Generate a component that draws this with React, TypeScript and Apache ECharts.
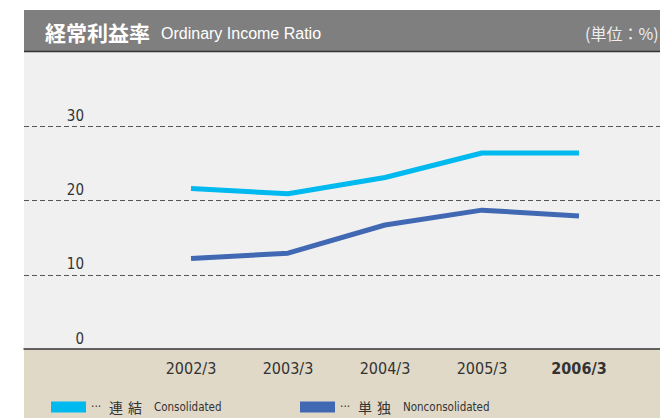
import React, { useEffect, useRef } from "react";
import * as echarts from "echarts";

const categories = ["2002/3", "2003/3", "2004/3", "2005/3", "2006/3"];
const consolidated = [21.6, 20.9, 23.1, 26.4, 26.4];
const nonconsolidated = [12.2, 12.9, 16.7, 18.7, 17.9];
const yTicks = [0, 10, 20, 30, 40];
const boldCategory = "2006/3";

const NARROW = "'DejaVu Sans Condensed', 'Liberation Sans Narrow', sans-serif";
const CJK = "'Noto Sans CJK JP', sans-serif";

const legendRich = {
  e: { fontFamily: NARROW, fontSize: 12, color: "#333333", width: 18, verticalAlign: "middle", height: 16 },
  a: { fontFamily: CJK, fontSize: 14, color: "#333333", verticalAlign: "middle", height: 16 },
  s: { fontFamily: CJK, fontSize: 14, width: 5, verticalAlign: "middle", height: 16 },
  t: { fontFamily: CJK, fontSize: 14, width: 12, verticalAlign: "middle", height: 16 },
  b: { fontFamily: NARROW, fontSize: 11.5, color: "#333333", verticalAlign: "middle", height: 16 },
};

export default function App() {
  const ref = useRef<HTMLDivElement>(null);
  useEffect(() => {
    document.body.style.margin = "0";
    const chart = echarts.init(ref.current!, null, { renderer: "svg" });
    const yMax = yTicks[yTicks.length - 1];
    const option: any = {
      animation: false,
      backgroundColor: "#ffffff",
      graphic: [
        { type: "rect", z: -10, shape: { x: 24, y: 349, width: 636, height: 69 }, style: { fill: "#e0d9c8" } },
        { type: "rect", z: 100, shape: { x: 24, y: 10, width: 636, height: 41 }, style: { fill: "#7f7f7f" } },
        { type: "line", z: 101, shape: { x1: 24, y1: 51.5, x2: 660, y2: 51.5 }, style: { stroke: "#333333", lineWidth: 1.5 } },
        { type: "text", z: 102, x: 45, y: 32, style: { text: "経常利益率", fill: "#ffffff", font: `bold 21px ${CJK}`, verticalAlign: "middle" } },
        { type: "text", z: 102, x: 161, y: 33, style: { text: "Ordinary Income Ratio", fill: "#ffffff", font: "16px 'Liberation Sans', sans-serif", verticalAlign: "middle" } },
        { type: "text", z: 102, x: 585, y: 33, style: { text: "(単位：%)", fill: "#eeeeee", font: `16px ${CJK}`, verticalAlign: "middle" } },
      ],
      grid: [
        { left: 24, right: 0, top: 52, bottom: 69, show: true, backgroundColor: "#f0f0f0", borderWidth: 0 },
        { left: 142.5, right: 32.5, top: 52, bottom: 69 },
      ],
      xAxis: [
        {
          gridIndex: 0, type: "value", min: 0, max: 1,
          axisLine: { show: true, onZero: false, lineStyle: { color: "#333333", width: 1.5 } },
          axisTick: { show: false }, axisLabel: { show: false }, splitLine: { show: false },
        },
        {
          gridIndex: 1, type: "category", boundaryGap: true,
          data: categories.map((c) => ({
            value: c,
            textStyle: c === boldCategory ? { fontWeight: "bold" } : {},
          })),
          axisLine: { show: false }, axisTick: { show: false },
          axisLabel: { color: "#333333", fontSize: 16, fontFamily: NARROW, margin: 11 },
        },
      ],
      yAxis: [
        {
          gridIndex: 0, type: "value", min: 0, max: yMax, interval: 10,
          axisLine: { show: false }, axisTick: { show: false },
          splitLine: { show: true, showMinLine: false, showMaxLine: false, lineStyle: { type: [5, 3], color: "#555555", width: 1 } },
          axisLabel: {
            inside: true, margin: 60, align: "right", verticalAlign: "bottom",
            showMaxLabel: false, color: "#333333", fontSize: 15, fontFamily: NARROW,
            padding: [0, 0, 3, 0],
          },
        },
        { gridIndex: 1, type: "value", min: 0, max: yMax, show: false },
      ],
      legend: [
        {
          data: ["連結"], left: 46, top: 395, icon: "rect", itemWidth: 35, itemHeight: 11, itemGap: 0, itemTextGap: 8,
          selectedMode: false,
          formatter: () => "{e|···}{a|連}{s| }{a|結}{t| }{b|Consolidated}",
          textStyle: { color: "#333333", rich: legendRich },
        },
        {
          data: ["単独"], left: 295, top: 395, icon: "rect", itemWidth: 35, itemHeight: 11, itemGap: 0, itemTextGap: 8,
          selectedMode: false,
          formatter: () => "{e|···}{a|単}{s| }{a|独}{t| }{b|Nonconsolidated}",
          textStyle: { color: "#333333", rich: legendRich },
        },
      ],
      series: [
        {
          name: "連結", type: "line", xAxisIndex: 1, yAxisIndex: 1, data: consolidated,
          showSymbol: false, symbol: "none", color: "#00b9ef",
          lineStyle: { width: 5, color: "#00b9ef", cap: "butt" },
        },
        {
          name: "単独", type: "line", xAxisIndex: 1, yAxisIndex: 1, data: nonconsolidated,
          showSymbol: false, symbol: "none", color: "#4169b3",
          lineStyle: { width: 5, color: "#4169b3", cap: "butt" },
        },
      ],
    };
    chart.setOption(option);
    return () => chart.dispose();
  }, []);
  return <div ref={ref} style={{ width: 660, height: 418 }} />;
}
